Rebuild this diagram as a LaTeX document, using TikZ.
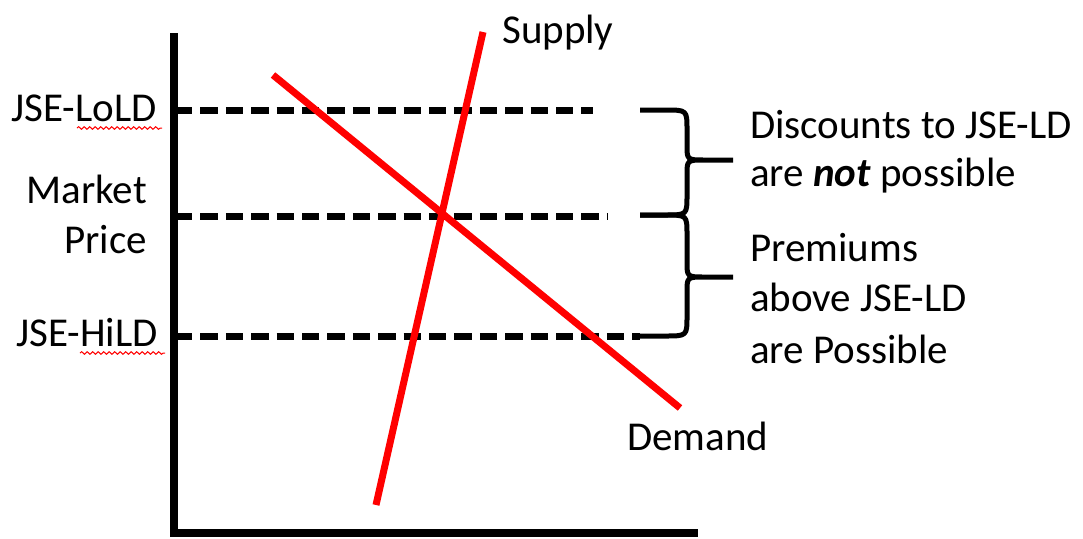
\documentclass[tikz,border=0pt]{standalone}
\usepackage{fontspec}
\setmainfont{Carlito}
\usetikzlibrary{decorations.pathmorphing}
\begin{document}
\begin{tikzpicture}[x=1pt,y=-1pt,
  axis/.style={line width=8pt},
  level/.style={line width=6.5pt, dash pattern=on 17.4pt off 8pt},
  curve/.style={line width=7pt, red},
  bracepath/.style={line width=5pt, line join=round},
  lbl/.style={font=\fontsize{41}{50}\selectfont, inner sep=0pt},
  squig/.style={red, line width=1pt, decorate,
    decoration={snake, amplitude=1.3pt, segment length=5.5pt}}]
\useasboundingbox (0,0) rectangle (1083,538);
% axes
\coordinate (ytop) at (174,33);
\coordinate (origin) at (174,533);
\coordinate (xend) at (698,533);
\draw[axis] (ytop) -- (origin) -- (xend);
% price levels
\coordinate (lo0) at (175,110.7);
\coordinate (lo1) at (593,110.7);
\coordinate (mp0) at (175,216.7);
\coordinate (mp1) at (608,216.7);
\coordinate (hi0) at (175,336.7);
\coordinate (hi1) at (640,336.7);
\draw[level] (lo0) -- (lo1);
\draw[level] (mp0) -- (mp1);
\draw[level] (hi0) -- (hi1);
% supply and demand
\coordinate (s0) at (376,505);
\coordinate (s1) at (483,32);
\coordinate (d0) at (273,75);
\coordinate (d1) at (680,408);
\draw[curve] (s0) -- (s1);
\draw[curve] (d0) -- (d1);
% labels
\node[lbl, anchor=base west] (supply) at (502,43) {Supply};
\node[lbl, anchor=base west] (demand) at (627,450) {Demand};
\node[lbl, anchor=base east] (lold) at (157,121) {JSE-LoLD};
\node[lbl, anchor=base east] (market) at (147,203) {Market};
\node[lbl, anchor=base east] (price) at (147,253) {Price};
\node[lbl, anchor=base east] (hild) at (158,346) {JSE-HiLD};
\coordinate (u1a) at (77,128);
\coordinate (u1b) at (162,128);
\coordinate (u2a) at (80,353);
\coordinate (u2b) at (165,353);
\draw[squig] (u1a) -- (u1b);
\draw[squig] (u2a) -- (u2b);
% braces
\coordinate (b1top) at (640,110);
\coordinate (b1tip) at (733,160);
\coordinate (bmid) at (640,215);
\coordinate (b2tip) at (733,277);
\coordinate (b2bot) at (637,336);
\draw[bracepath] (b1top) -- (665,110) .. controls (687,110) .. (687,130)
  -- (687,145) .. controls (687,160) .. (705,160) -- (b1tip)
  (b1tip) -- (705,160) .. controls (687,160) .. (687,175)
  -- (687,195) .. controls (687,215) .. (665,215) -- (bmid);
\draw[bracepath] (bmid) -- (665,215) .. controls (687,215) .. (687,235)
  -- (687,262) .. controls (687,277) .. (705,277) -- (b2tip)
  (b2tip) -- (705,277) .. controls (687,277) .. (687,292)
  -- (687,316) .. controls (687,336) .. (665,336) -- (b2bot);
% right texts
\node[lbl, anchor=base west] (disc1) at (750,138) {Discounts to JSE-LD};
\node[lbl, anchor=base west] (disc2) at (750,186) {are \textbf{\textit{not}} possible};
\node[lbl, anchor=base west] (prem1) at (750,261) {Premiums};
\node[lbl, anchor=base west] (prem2) at (750,311) {above JSE-LD};
\node[lbl, anchor=base west] (prem3) at (750,363) {are Possible};
\end{tikzpicture}
\end{document}
